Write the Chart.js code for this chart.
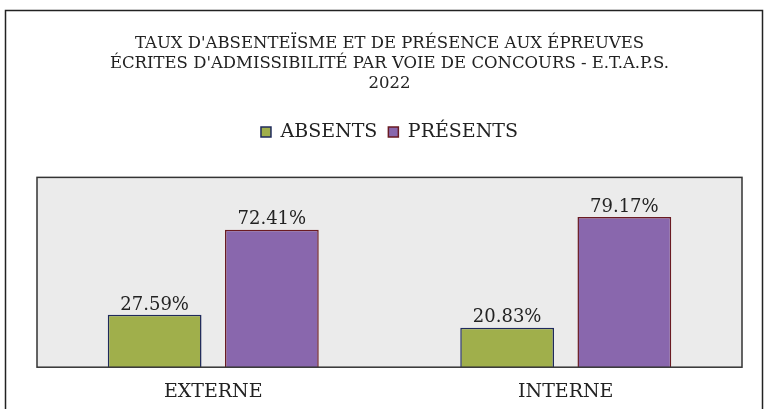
<!DOCTYPE html>
<html>
<head>
<meta charset="utf-8">
<script src="https://cdn.jsdelivr.net/npm/chart.js@4"></script>
<style>
  html, body { margin: 0; padding: 0; background: #fff; }
  #wrap { width: 765px; height: 409px; }
</style>
</head>
<body>
<div id="wrap"><canvas id="chart" width="765" height="409"></canvas></div>
<script>
// Chart data
const categories = ['EXTERNE', 'INTERNE'];
const absents = [27.59, 20.83];
const presents = [72.41, 79.17];
const titleLines = [
    "TAUX D'ABSENTEÏSME ET DE PRÉSENCE AUX ÉPREUVES",
    "ÉCRITES D'ADMISSIBILITÉ PAR VOIE DE CONCOURS - E.T.A.P.S.",
    "2022"
];

const serif = "'DejaVu Serif', 'Liberation Serif', serif";

// Frame around the whole chart, grey plot background and value labels
const framePlugin = {
    id: 'frame',
    beforeDraw(chart) {
        const ctx = chart.ctx;
        const a = chart.chartArea;
        ctx.save();
        ctx.strokeStyle = '#222';
        ctx.lineWidth = 1.5;
        ctx.strokeRect(5.5, 10.5, 757, 420);
        ctx.fillStyle = '#ebebeb';
        ctx.fillRect(a.left, a.top, a.right - a.left, a.bottom - a.top);
        ctx.restore();
    },
    afterDatasetsDraw(chart) {
        const ctx = chart.ctx;
        const a = chart.chartArea;
        ctx.save();
        ctx.strokeStyle = '#333';
        ctx.lineWidth = 1.5;
        ctx.strokeRect(a.left, a.top, a.right - a.left, a.bottom - a.top);
        ctx.fillStyle = '#222';
        ctx.font = "18px " + serif;
        ctx.textAlign = 'center';
        ctx.textBaseline = 'bottom';
        chart.data.datasets.forEach((ds, i) => {
            chart.getDatasetMeta(i).data.forEach((bar, j) => {
                ctx.fillText(ds.data[j].toFixed(2) + '%', bar.x, bar.y - 1);
            });
        });
        ctx.restore();
    }
};

new Chart(document.getElementById('chart').getContext('2d'), {
    type: 'bar',
    data: {
        labels: categories,
        datasets: [{
            label: 'ABSENTS',
            data: absents,
            backgroundColor: '#a0af4b',
            borderColor: '#1f2a5c',
            borderWidth: 1.5,
            categoryPercentage: 0.665,
            barPercentage: 0.8
        }, {
            label: 'PRÉSENTS',
            data: presents,
            backgroundColor: '#8967ad',
            borderColor: '#6a1b22',
            borderWidth: 1.5,
            categoryPercentage: 0.665,
            barPercentage: 0.8
        }]
    },
    options: {
        responsive: false,
        animation: false,
        layout: {
            padding: { left: 37, right: 23, bottom: 1 }
        },
        scales: {
            x: {
                grid: { display: false },
                border: { display: false },
                ticks: {
                    color: '#222',
                    font: { family: serif, size: 19 },
                    padding: 5
                }
            },
            // empty top axis, only used as a spacer under the legend
            spacer: {
                type: 'category',
                position: 'top',
                grid: { display: false },
                border: { display: false },
                ticks: { display: false },
                afterFit(scale) { scale.height = 26; }
            },
            y: {
                display: false,
                min: 0,
                max: 100
            }
        },
        plugins: {
            title: {
                display: true,
                text: titleLines,
                color: '#222',
                font: { family: serif, size: 16.5, weight: 'normal', lineHeight: 1.24 },
                padding: { top: 33, bottom: 17 }
            },
            legend: {
                display: true,
                position: 'top',
                labels: {
                    color: '#222',
                    font: { family: serif, size: 19 },
                    boxWidth: 10,
                    boxHeight: 10,
                    padding: 11
                }
            },
            tooltip: { enabled: false }
        }
    },
    plugins: [framePlugin]
});
</script>
</body>
</html>
